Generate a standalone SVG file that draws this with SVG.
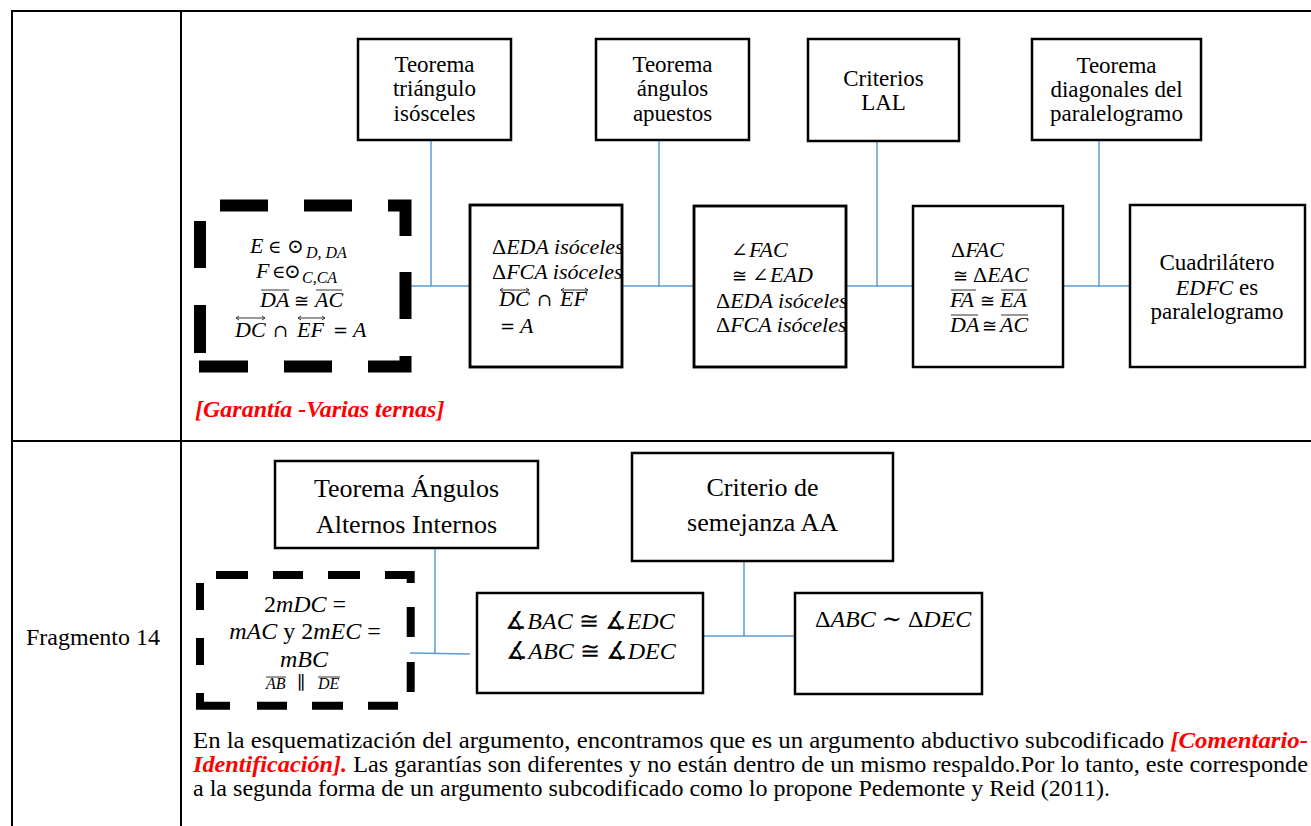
<svg xmlns="http://www.w3.org/2000/svg" width="1311" height="826" viewBox="0 0 1311 826">
  <style>
    .tbl { stroke: #000; stroke-width: 2; fill: none; }
    .box { fill: #fff; stroke: #000; stroke-width: 2.5; }
    .frame { fill: none; stroke: #000; stroke-width: 2.5; }
    .dash1 { fill: none; stroke: #000; stroke-width: 12; stroke-linecap: butt; stroke-linejoin: miter; }
    .dash2 { fill: none; stroke: #000; stroke-width: 8; stroke-linecap: butt; stroke-linejoin: miter; }
    .conn { fill: none; stroke: #5b9bd5; stroke-width: 1.5; }
    .bar { fill: none; stroke: #333; stroke-width: 1; }
    .lbl { font-family: "Liberation Serif", "Times New Roman", serif; font-size: 23px; fill: #000; text-anchor: middle; }
    .lbl2 { font-family: "Liberation Serif", "Times New Roman", serif; font-size: 26px; fill: #000; text-anchor: middle; }
    .txt { font-family: "Liberation Serif", "Times New Roman", serif; font-size: 24px; fill: #000; }
    .m { font-family: "Liberation Serif", "DejaVu Serif", serif; font-style: italic; font-size: 22px; fill: #000; }
    .m24 { font-family: "Liberation Serif", "DejaVu Serif", serif; font-style: italic; font-size: 24px; fill: #000; }
    .sub { font-family: "Liberation Serif", "DejaVu Serif", serif; font-style: italic; font-size: 16px; fill: #000; }
    .u { font-style: normal; font-family: "Liberation Serif", "DejaVu Serif", serif; }
    .s { font-style: normal; font-family: "DejaVu Serif", serif; font-size: 18px; }
    .big { font-size: 20px; }
    .red { fill: #ff0000; font-weight: bold; font-style: italic; }
  </style>
  <defs>
    <clipPath id="clipB2"><rect x="470" y="205" width="152" height="162"/></clipPath>
    <clipPath id="clipB3"><rect x="694" y="206" width="152" height="161"/></clipPath>
  </defs>

  <rect width="1311" height="826" fill="#fff"/>

  <!-- table frame -->
  <g id="table">
    <path class="tbl" d="M12 11 H1311 M12 10 V826 M181 10 V826 M12 441 H1311"/>
  </g>

  <!-- connectors -->
  <g id="connectors">
    <path class="conn" d="M431 140 V286 M406 286 H470"/>
    <path class="conn" d="M659 140 V286 M622 286 H694"/>
    <path class="conn" d="M877 141 V286 M846 286 H913"/>
    <path class="conn" d="M1099 140 V286 M1063 286 H1130"/>
    <path class="conn" d="M435 548 V653 M410 653 L470 654"/>
    <path class="conn" d="M744 561 V636 M703 636 H795"/>
  </g>

  <!-- upper row: warrants -->
  <g id="w-isosceles">
    <rect class="box" x="358" y="39" width="153" height="101"/>
    <text class="lbl"><tspan x="434.5" y="72">Teorema</tspan><tspan x="434.5" y="96">triángulo</tspan><tspan x="434.5" y="121">isósceles</tspan></text>
  </g>
  <g id="w-apuestos">
    <rect class="box" x="596" y="39" width="153" height="101"/>
    <text class="lbl"><tspan x="672.5" y="72">Teorema</tspan><tspan x="672.5" y="96">ángulos</tspan><tspan x="672.5" y="121">apuestos</tspan></text>
  </g>
  <g id="w-lal">
    <rect class="box" x="808" y="39" width="151" height="102"/>
    <text class="lbl"><tspan x="883.5" y="86">Criterios</tspan><tspan x="883.5" y="110">LAL</tspan></text>
  </g>
  <g id="w-diagonales">
    <rect class="box" x="1032" y="39" width="169" height="101"/>
    <text class="lbl"><tspan x="1116.5" y="73">Teorema</tspan><tspan x="1116.5" y="97">diagonales del</tspan><tspan x="1116.5" y="121">paralelogramo</tspan></text>
  </g>

  <!-- upper row: data / claims -->
  <g id="d-datos">
    <path class="dash1" d="M220 205.5 H268 M304 205.5 H352 M388 205.5 H405.5 V236 M405.5 272 V319 M405.5 356 V366.5 H368 M332 366.5 H284 M248 366.5 H199 M200 353 V305 M200 268 V221"/>
    <text class="m" y="253"><tspan x="250">E</tspan><tspan class="s" x="268">∈</tspan><tspan class="s big" x="287">⊙</tspan></text>
    <text class="sub" x="306" y="258">D, DA</text>
    <text class="m" y="278"><tspan x="256">F</tspan><tspan class="s" x="272">∈</tspan><tspan class="s big" x="284">⊙</tspan></text>
    <text class="sub" x="302" y="283">C,CA</text>
    <text class="m" y="307"><tspan x="260">DA</tspan><tspan class="s" x="294">≅</tspan><tspan x="315">AC</tspan></text>
    <path class="bar" d="M261 290 H289 M316 290 H342"/>
    <text class="m" y="337"><tspan x="235">DC</tspan><tspan class="s" x="273">∩</tspan><tspan x="297">EF</tspan><tspan class="s" x="333">=</tspan><tspan x="353">A</tspan></text>
    <path class="bar" d="M236 318 H265 M239 316 L236 318 L239 320 M262 316 L265 318 L262 320 M298 318 H325 M301 316 L298 318 L301 320 M322 316 L325 318 L322 320"/>
  </g>

  <g id="c-isoceles">
    <rect class="box" x="470" y="205" width="152" height="162"/>
    <g clip-path="url(#clipB2)">
      <text class="m" x="492" y="254" font-size="22.6"><tspan class="u">Δ</tspan>EDA isóceles</text>
      <text class="m" x="492" y="279" font-size="22.6"><tspan class="u">Δ</tspan>FCA isóceles</text>
      <text class="m" y="306"><tspan x="499">DC</tspan><tspan class="s" x="537">∩</tspan><tspan x="560">EF</tspan></text>
      <text class="m" y="333"><tspan class="s" x="500">=</tspan><tspan x="520">A</tspan></text>
    </g>
    <rect class="frame" x="470" y="205" width="152" height="162"/>
    <path class="bar" d="M500 290 H529 M503 288 L500 290 L503 292 M526 288 L529 290 L526 292 M561 290 H588 M564 288 L561 290 L564 292 M585 288 L588 290 L585 292"/>
  </g>

  <g id="c-angulos">
    <rect class="box" x="694" y="206" width="152" height="161"/>
    <g clip-path="url(#clipB3)">
      <text class="m" y="257"><tspan class="s big" x="731">∠</tspan><tspan x="749">FAC</tspan></text>
      <text class="m" y="282"><tspan class="s" x="732">≅</tspan><tspan class="s big" x="752">∠</tspan><tspan x="770">EAD</tspan></text>
      <text class="m" x="716" y="308" font-size="22.6"><tspan class="u">Δ</tspan>EDA isóceles</text>
      <text class="m" x="716" y="332" font-size="22.6"><tspan class="u">Δ</tspan>FCA isóceles</text>
    </g>
    <rect class="frame" x="694" y="206" width="152" height="161"/>
  </g>

  <g id="c-congruentes">
    <rect class="box" x="913" y="206" width="150" height="161"/>
    <text class="m" x="951" y="257"><tspan class="u">Δ</tspan>FAC</text>
    <text class="m" y="282"><tspan class="s" x="953">≅</tspan><tspan class="u" x="973">Δ</tspan>EAC</text>
    <text class="m" y="307"><tspan x="950">FA</tspan><tspan class="s" x="980">≅</tspan><tspan x="1000">EA</tspan></text>
    <text class="m" y="332"><tspan x="950">DA</tspan><tspan class="s" x="982">≅</tspan><tspan x="1000">AC</tspan></text>
    <path class="bar" d="M951 290 H976 M1001 290 H1027 M951 315 H978 M1001 315 H1028"/>
  </g>

  <g id="c-paralelogramo">
    <rect class="box" x="1130" y="205" width="175" height="162"/>
    <text class="lbl"><tspan x="1217" y="270">Cuadrilátero</tspan></text>
    <text class="lbl" x="1217" y="295"><tspan class="m" font-size="23">EDFC</tspan> es</text>
    <text class="lbl"><tspan x="1217" y="319">paralelogramo</tspan></text>
  </g>

  <text class="txt" x="195" y="417"><tspan class="red">[Garantía -Varias ternas]</tspan></text>

  <!-- lower row -->
  <text class="txt" x="26" y="645">Fragmento 14</text>

  <g id="w-alternos">
    <rect class="box" x="275" y="461" width="263" height="87"/>
    <text class="lbl2"><tspan x="406.5" y="497">Teorema Ángulos</tspan><tspan x="406.5" y="533">Alternos Internos</tspan></text>
  </g>
  <g id="w-semejanza">
    <rect class="box" x="632" y="453" width="261" height="108"/>
    <text class="lbl2"><tspan x="762.5" y="496">Criterio de</tspan><tspan x="762.5" y="531">semejanza AA</tspan></text>
  </g>

  <g id="d-medidas">
    <path class="dash2" d="M216 575 H248 M273 575 H303 M328 575 H360 M385 575 H410.7 V583 M410.7 607 V637 M410.7 662 V692 M398 705.7 H368 M343 705.7 H312 M287 705.7 H257 M230 705.7 H200 V693 M200 665 V638 M200 610 V583"/>
    <text class="m24" x="305" y="612" text-anchor="middle"><tspan class="u">2</tspan>mDC  <tspan class="u">=</tspan></text>
    <text class="m24" x="305" y="639" text-anchor="middle">mAC <tspan class="u">y</tspan> <tspan class="u">2</tspan>mEC <tspan class="u">=</tspan></text>
    <text class="m24" x="304" y="667" text-anchor="middle">mBC</text>
    <text class="sub" font-size="15" y="689"><tspan x="266">AB</tspan><tspan class="s" x="297" font-size="11">∥</tspan><tspan x="318">DE</tspan></text>
    <path class="bar" d="M266 677 H286 M318 677 H340"/>
  </g>

  <g id="c-angulos-iguales">
    <rect class="box" x="477" y="593" width="226" height="100"/>
    <text class="m24" x="590" y="629" text-anchor="middle"><tspan class="u">∡</tspan>BAC <tspan class="u">≅ ∡</tspan>EDC</text>
    <text class="m24" x="591" y="659" text-anchor="middle"><tspan class="u">∡</tspan>ABC <tspan class="u">≅ ∡</tspan>DEC</text>
  </g>
  <g id="c-semejantes">
    <rect class="box" x="795" y="593" width="187" height="101"/>
    <text class="m24" x="815" y="627" font-size="21.5"><tspan class="u">Δ</tspan>ABC <tspan class="u">∼ Δ</tspan>DEC</text>
  </g>

  <!-- commentary paragraph -->
  <g id="comentario">
    <text class="txt" x="193" y="748" textLength="1115" lengthAdjust="spacingAndGlyphs">En la esquematización del argumento, encontramos que es un argumento abductivo subcodificado <tspan class="red">[Comentario-</tspan></text>
    <text class="txt" x="193" y="772" textLength="1115" lengthAdjust="spacingAndGlyphs"><tspan class="red">Identificación].</tspan> Las garantías son diferentes y no están dentro de un mismo respaldo.Por lo tanto, este corresponde</text>
    <text class="txt" x="193" y="796" textLength="917" lengthAdjust="spacingAndGlyphs">a la segunda forma de un argumento subcodificado como lo propone Pedemonte y Reid (2011).</text>
  </g>
</svg>
